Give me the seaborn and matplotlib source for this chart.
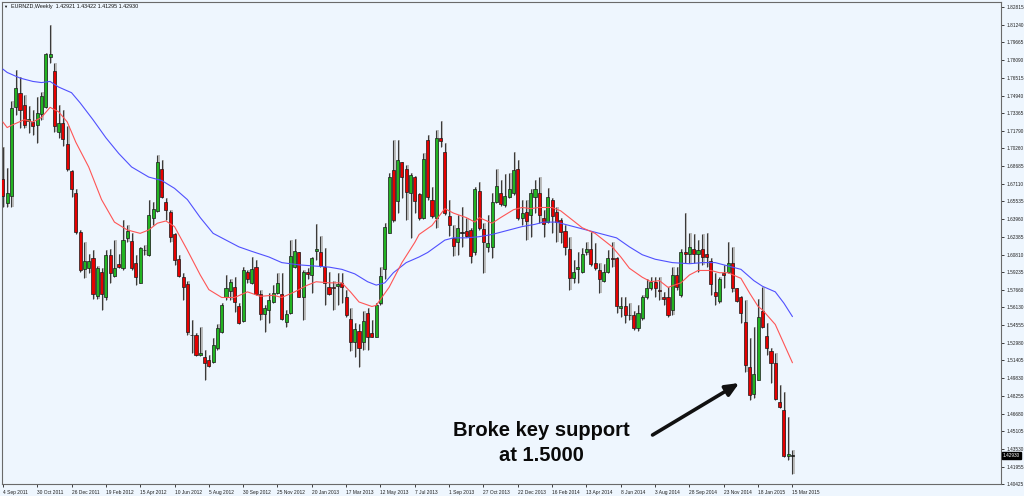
import numpy as np
import pandas as pd
import seaborn as sns
import matplotlib.pyplot as plt
from matplotlib.transforms import blended_transform_factory

sns.set_style("white")
plt.rcParams['font.family'] = ['Liberation Sans', 'DejaVu Sans']

# weekly EURNZD candles, 4 Sep 2011 .. 15 Mar 2015
opens = [1.675, 1.654, 1.660, 1.739, 1.752, 1.741, 1.727, 1.726, 1.723, 1.733,
         1.739, 1.784, 1.771, 1.717, 1.725, 1.706, 1.682, 1.663, 1.628, 1.595,
         1.596, 1.605, 1.571, 1.593, 1.570, 1.608, 1.589, 1.600, 1.596, 1.623,
         1.620, 1.601, 1.583, 1.612, 1.608, 1.641, 1.647, 1.684, 1.655, 1.646,
         1.626, 1.604, 1.588, 1.582, 1.537, 1.537, 1.519, 1.517, 1.514, 1.513,
         1.525, 1.539, 1.570, 1.576, 1.579, 1.562, 1.549, 1.593, 1.583, 1.597,
         1.573, 1.555, 1.559, 1.566, 1.574, 1.573, 1.548, 1.556, 1.597, 1.610,
         1.570, 1.593, 1.590, 1.611, 1.610, 1.597, 1.579, 1.579, 1.580, 1.583,
         1.570, 1.551, 1.530, 1.540, 1.530, 1.556, 1.538, 1.535, 1.565, 1.595,
         1.627, 1.683, 1.656, 1.690, 1.684, 1.663, 1.677, 1.662, 1.641, 1.710,
         1.657, 1.641, 1.712, 1.699, 1.642, 1.623, 1.619, 1.628, 1.629, 1.630,
         1.610, 1.665, 1.631, 1.615, 1.615, 1.655, 1.663, 1.652, 1.659, 1.663,
         1.684, 1.641, 1.646, 1.643, 1.659, 1.663, 1.641, 1.637, 1.657, 1.646,
         1.639, 1.629, 1.613, 1.587, 1.595, 1.593, 1.610, 1.613, 1.601, 1.594,
         1.585, 1.593, 1.605, 1.605, 1.561, 1.562, 1.5545, 1.554, 1.543, 1.552,
         1.570, 1.578, 1.584, 1.577, 1.570, 1.570, 1.559, 1.590, 1.572, 1.610,
         1.609, 1.613, 1.609, 1.613, 1.609, 1.602, 1.575, 1.567, 1.592, 1.593,
         1.601, 1.578, 1.570, 1.548, 1.508, 1.484, 1.497, 1.558, 1.536, 1.522,
         1.512, 1.477, 1.470, 1.429, 1.42921]
highs = [1.704, 1.685, 1.745, 1.772, 1.766, 1.750, 1.740, 1.737, 1.748, 1.753,
         1.787, 1.812, 1.778, 1.741, 1.737, 1.722, 1.683, 1.666, 1.630, 1.619,
         1.609, 1.612, 1.598, 1.596, 1.612, 1.613, 1.621, 1.609, 1.639, 1.634,
         1.627, 1.608, 1.615, 1.617, 1.657, 1.655, 1.697, 1.692, 1.658, 1.648,
         1.627, 1.608, 1.592, 1.585, 1.550, 1.538, 1.544, 1.523, 1.519, 1.534,
         1.546, 1.565, 1.590, 1.586, 1.588, 1.565, 1.597, 1.594, 1.606, 1.603,
         1.577, 1.563, 1.574, 1.581, 1.592, 1.592, 1.559, 1.621, 1.622, 1.610,
         1.594, 1.596, 1.606, 1.635, 1.625, 1.614, 1.593, 1.585, 1.592, 1.592,
         1.577, 1.561, 1.547, 1.546, 1.558, 1.561, 1.550, 1.565, 1.597, 1.636,
         1.681, 1.710, 1.710, 1.690, 1.688, 1.681, 1.678, 1.663, 1.698, 1.714,
         1.668, 1.719, 1.727, 1.707, 1.657, 1.634, 1.643, 1.650, 1.641, 1.632,
         1.668, 1.673, 1.636, 1.643, 1.663, 1.684, 1.674, 1.680, 1.681, 1.699,
         1.692, 1.657, 1.657, 1.666, 1.674, 1.677, 1.648, 1.667, 1.658, 1.650,
         1.641, 1.634, 1.624, 1.603, 1.610, 1.614, 1.619, 1.628, 1.618, 1.601,
         1.600, 1.612, 1.619, 1.606, 1.570, 1.570, 1.565, 1.558, 1.563, 1.572,
         1.586, 1.588, 1.588, 1.588, 1.575, 1.579, 1.597, 1.597, 1.613, 1.645,
         1.627, 1.626, 1.621, 1.626, 1.627, 1.605, 1.592, 1.588, 1.599, 1.619,
         1.615, 1.578, 1.571, 1.568, 1.534, 1.544, 1.569, 1.579, 1.547, 1.525,
         1.521, 1.492, 1.486, 1.464, 1.43422]
lows = [1.650, 1.650, 1.650, 1.732, 1.721, 1.721, 1.716, 1.714, 1.707, 1.728,
        1.738, 1.778, 1.717, 1.712, 1.705, 1.682, 1.659, 1.626, 1.593, 1.587,
        1.592, 1.569, 1.569, 1.559, 1.568, 1.583, 1.588, 1.596, 1.594, 1.619,
        1.594, 1.581, 1.583, 1.608, 1.607, 1.634, 1.646, 1.658, 1.639, 1.619,
        1.599, 1.588, 1.568, 1.537, 1.521, 1.518, 1.518, 1.497, 1.508, 1.512,
        1.523, 1.538, 1.568, 1.568, 1.557, 1.546, 1.548, 1.583, 1.582, 1.572,
        1.550, 1.539, 1.547, 1.565, 1.573, 1.550, 1.544, 1.555, 1.596, 1.570,
        1.550, 1.586, 1.574, 1.603, 1.597, 1.563, 1.572, 1.559, 1.563, 1.565,
        1.553, 1.522, 1.517, 1.508, 1.523, 1.523, 1.535, 1.535, 1.563, 1.586,
        1.627, 1.637, 1.645, 1.658, 1.639, 1.623, 1.645, 1.639, 1.640, 1.657,
        1.641, 1.632, 1.704, 1.643, 1.625, 1.607, 1.608, 1.615, 1.624, 1.601,
        1.608, 1.630, 1.592, 1.610, 1.605, 1.654, 1.651, 1.650, 1.658, 1.661,
        1.639, 1.634, 1.621, 1.624, 1.645, 1.636, 1.624, 1.636, 1.627, 1.619,
        1.618, 1.608, 1.577, 1.583, 1.583, 1.592, 1.608, 1.598, 1.594, 1.574,
        1.584, 1.592, 1.597, 1.556, 1.553, 1.547, 1.550, 1.541, 1.540, 1.550,
        1.569, 1.577, 1.570, 1.568, 1.563, 1.553, 1.554, 1.577, 1.570, 1.601,
        1.601, 1.601, 1.593, 1.599, 1.597, 1.572, 1.563, 1.565, 1.578, 1.592,
        1.575, 1.566, 1.547, 1.504, 1.479, 1.481, 1.497, 1.543, 1.519, 1.494,
        1.479, 1.472, 1.428, 1.426, 1.41295]
closes = [1.660, 1.663, 1.738, 1.756, 1.737, 1.723, 1.729, 1.722, 1.734, 1.749,
          1.786, 1.786, 1.722, 1.725, 1.711, 1.684, 1.666, 1.628, 1.594, 1.602,
          1.602, 1.573, 1.596, 1.573, 1.608, 1.592, 1.596, 1.597, 1.621, 1.629,
          1.596, 1.588, 1.614, 1.6121, 1.643, 1.649, 1.690, 1.659, 1.648, 1.624,
          1.603, 1.589, 1.579, 1.539, 1.5365, 1.519, 1.521, 1.512, 1.509, 1.528,
          1.543, 1.563, 1.578, 1.584, 1.566, 1.547, 1.594, 1.586, 1.595, 1.573,
          1.555, 1.561, 1.568, 1.574, 1.583, 1.551, 1.555, 1.607, 1.611, 1.570,
          1.593, 1.591, 1.605, 1.613, 1.598, 1.583, 1.573, 1.578, 1.582, 1.579,
          1.554, 1.530, 1.542, 1.525, 1.549, 1.535, 1.535, 1.563, 1.589, 1.633,
          1.677, 1.639, 1.692, 1.677, 1.664, 1.679, 1.656, 1.641, 1.693, 1.659,
          1.642, 1.712, 1.709, 1.645, 1.634, 1.616, 1.632, 1.6275, 1.625, 1.607,
          1.666, 1.632, 1.619, 1.618, 1.655, 1.669, 1.653, 1.660, 1.666, 1.683,
          1.641, 1.645, 1.638, 1.663, 1.666, 1.643, 1.635, 1.659, 1.642, 1.637,
          1.628, 1.615, 1.587, 1.593, 1.597, 1.609, 1.613, 1.600, 1.596, 1.586,
          1.593, 1.605, 1.604, 1.562, 1.562, 1.554, 1.554, 1.543, 1.556, 1.570,
          1.578, 1.584, 1.578, 1.576, 1.569, 1.554, 1.590, 1.579, 1.610, 1.609,
          1.615, 1.609, 1.612, 1.606, 1.606, 1.582, 1.571, 1.586, 1.590, 1.601,
          1.578, 1.567, 1.556, 1.510, 1.483, 1.502, 1.553, 1.544, 1.525, 1.512,
          1.480, 1.473, 1.429, 1.431, 1.42930]

# moving averages (candle index, price)
slow_idx = [0, 1, 4, 7, 9, 11, 13, 16, 18, 21, 24, 27, 30, 34, 37, 40, 43, 46, 49, 52,
            55, 58, 62, 65, 69, 76, 79, 82, 85, 87, 89, 91, 94, 97, 99, 103, 105, 108, 111, 114,
            118, 121, 124, 126, 129, 132, 135, 140, 143, 146, 149, 152, 156, 160, 163, 166, 169, 172, 175, 177,
            180, 182, 184]
slow_ma = [1.773, 1.770, 1.765, 1.762, 1.761, 1.762, 1.757, 1.752, 1.743, 1.728,
           1.712, 1.698, 1.686, 1.677, 1.674, 1.667, 1.657, 1.641, 1.627, 1.621,
           1.615, 1.611, 1.606, 1.601, 1.599, 1.597, 1.595, 1.591, 1.584, 1.581,
           1.583, 1.592, 1.601, 1.606, 1.610, 1.621, 1.623, 1.623, 1.624, 1.626,
           1.630, 1.633, 1.635, 1.637, 1.637, 1.634, 1.631, 1.626, 1.623, 1.615,
           1.608, 1.604, 1.601, 1.600, 1.601, 1.601, 1.598, 1.595, 1.585, 1.580,
           1.575, 1.565, 1.553]
fast_idx = [0, 1, 2, 5, 7, 9, 11, 13, 15, 17, 20, 23, 26, 29, 32, 34, 36, 38, 40, 43,
            46, 48, 51, 54, 57, 60, 63, 65, 68, 71, 73, 76, 79, 81, 83, 86, 87, 90, 93, 96,
            97, 100, 103, 105, 108, 110, 111, 114, 116, 119, 121, 123, 125, 128, 130, 132, 135, 138, 141, 142,
            144, 146, 149, 151, 153, 155, 158, 160, 162, 165, 167, 169, 172, 174, 176, 177, 180, 182, 184]
fast_ma = [1.726, 1.721, 1.723, 1.728, 1.726, 1.730, 1.739, 1.735, 1.726, 1.708,
           1.686, 1.657, 1.637, 1.630, 1.627, 1.630, 1.636, 1.638, 1.633, 1.612,
           1.590, 1.577, 1.570, 1.570, 1.575, 1.571, 1.572, 1.570, 1.575, 1.581,
           1.584, 1.583, 1.583, 1.575, 1.566, 1.562, 1.563, 1.579, 1.601, 1.619,
           1.626, 1.634, 1.649, 1.645, 1.641, 1.637, 1.641, 1.636, 1.641, 1.648,
           1.650, 1.649, 1.650, 1.650, 1.647, 1.641, 1.632, 1.627, 1.618, 1.615,
           1.606, 1.596, 1.588, 1.584, 1.585, 1.579, 1.583, 1.590, 1.594, 1.594,
           1.592, 1.592, 1.587, 1.574, 1.562, 1.559, 1.546, 1.529, 1.512]

date_idx = [0, 8, 16, 24, 32, 40, 48, 56, 64, 72, 80, 88, 96, 104, 112, 120,
            128, 136, 144, 152, 160, 168, 176, 184]
date_labels = ['4 Sep 2011', '30 Oct 2011', '26 Dec 2011', '19 Feb 2012', '15 Apr 2012',
               '10 Jun 2012', '5 Aug 2012', '30 Sep 2012', '25 Nov 2012', '20 Jan 2013',
               '17 Mar 2013', '12 May 2013', '7 Jul 2013', '1 Sep 2013', '27 Oct 2013',
               '22 Dec 2013', '16 Feb 2014', '13 Apr 2014', '8 Jun 2014', '3 Aug 2014',
               '28 Sep 2014', '23 Nov 2014', '18 Jan 2015', '15 Mar 2015']
price_labels = ['1.82815', '1.81240', '1.79665', '1.78090', '1.76515', '1.74940', '1.73365',
                '1.71790', '1.70260', '1.68685', '1.67110', '1.65535', '1.63960', '1.62385',
                '1.60810', '1.59235', '1.57660', '1.56130', '1.54555', '1.52980', '1.51405',
                '1.49830', '1.48255', '1.46680', '1.45105', '1.43530', '1.41955', '1.40425']
last_price = '1.42930'

df = pd.DataFrame({'open': opens, 'high': highs, 'low': lows, 'close': closes})
df['idx'] = np.arange(len(df))
diff = df['close'] - df['open']

BG = '#eef6fe'
fig = plt.figure(figsize=(10.24, 4.96), dpi=100, facecolor=BG)
ax = fig.add_axes([2 / 1024, 12 / 496, 999 / 1024, 482 / 496], facecolor=BG)

# wicks: light shadow + dark line
ax.vlines(df['idx'] + 0.3, df['low'], df['high'], color='#b8b8b8', lw=1.3, zorder=1)
ax.vlines(df['idx'], df['low'], df['high'], color='#3a3a3a', lw=0.8, zorder=2)

body_lo = np.minimum(df['open'], df['close'])
body_h = diff.abs().clip(lower=0.0004)
colors = np.where(diff.abs() < 0.0006, '#111111',
                  np.where(diff > 0, '#22b422', '#e60000'))
ax.bar(df['idx'], body_h, bottom=body_lo, width=0.72, color=colors,
       edgecolor='#1a1a1a', linewidth=0.5, zorder=3)

sns.lineplot(x=slow_idx, y=slow_ma, color='#5050ff', lw=0.8, ax=ax, zorder=4)
sns.lineplot(x=fast_idx, y=fast_ma, color='#ff5555', lw=0.8, ax=ax, zorder=4)

ax.set_xlim(-0.2, 232.6)
ax.set_ylim(1.40424, 1.8326)

for s in ax.spines.values():
    s.set_color('#6a6a6a')
    s.set_linewidth(0.8)

ax.yaxis.tick_right()
ax.set_yticks([float(v) for v in price_labels], price_labels)
ax.tick_params(axis='y', length=2.5, width=0.6, pad=1.2, labelsize=3.4,
               colors='#202020', right=True, left=False)
ax.set_xticks(date_idx, date_labels)
ax.tick_params(axis='x', length=2.5, width=0.6, pad=2, labelsize=3.5,
               colors='#202020', bottom=True)
for lab in ax.get_xticklabels():
    lab.set_horizontalalignment('left')
ax.set_xlabel('')
ax.set_ylabel('')

# current price marker on the price axis
trans = blended_transform_factory(ax.transAxes, ax.transData)
ax.text(1.0015, float(last_price), last_price, transform=trans, fontsize=3.4,
        color='white', va='center', ha='left',
        bbox=dict(boxstyle='square,pad=0.2', fc='black', ec='black'))

# header
fig.text(3 / 1024, 1 - 6.5 / 496, '\u25bc', fontsize=3, va='center', ha='left', color='#111111')
fig.text(11 / 1024, 1 - 6.5 / 496, 'EURNZD,Weekly  1.42921 1.43422 1.41295 1.42930',
         fontsize=3.9, va='center', ha='left', color='#111111')

# annotation
ax.annotate('', xy=(171.6, 1.4940), xytext=(151.4, 1.4478),
            arrowprops=dict(arrowstyle='-|>,head_length=0.8,head_width=0.35',
                            color='#111111', lw=2.6, shrinkA=0, shrinkB=0))
ax.text(125.5, 1.4407, 'Broke key support\nat 1.5000', ha='center', va='center',
        fontsize=14.5, fontweight='bold', linespacing=1.45, color='#0a0a0a')

fig.savefig('out.png', dpi=100, facecolor=BG)
